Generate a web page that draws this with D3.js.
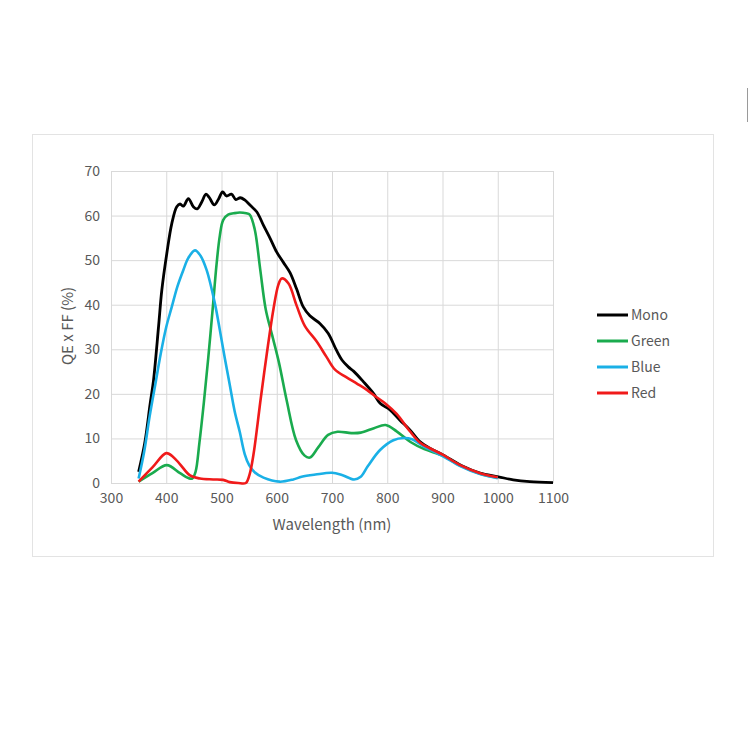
<!DOCTYPE html>
<html>
<head>
<meta charset="utf-8">
<script src="https://cdn.jsdelivr.net/npm/d3@7"></script>
<style>
  body { margin: 0; background: #fff; }
  text { font-family: "Noto Sans CJK SC", "Noto Sans", sans-serif; fill: #595959; }
</style>
</head>
<body>
<svg width="750" height="750"></svg>
<script>
// wavelength (nm) and QE x FF (%), one pair of arrays per curve
var monoNm = [350,361,371,377,386,392,401,410,419,425,431,440,449,456,464,472,478,487,495,502,509,518,526,534,542,552,564,576,588,600,612,624,636,648,660,678,693,708,718,730,739,757,775,787,805,823,841,859,877,901,938,968,1001,1028,1058,1100];
var monoQe = [2.5,8.9,17.9,23.1,35,43.3,51.5,58.2,62.0,62.6,62.1,63.8,62.0,61.5,63,64.8,64,62.4,63.8,65.3,64.4,64.8,63.6,64.0,63.5,62.3,60.8,57.8,54.9,51.8,49.5,47.2,43.5,39.5,37.5,35.8,33.6,29.8,27.6,26.0,25.1,22.7,20.1,17.9,16.4,14.1,11.9,9.3,7.8,6.3,3.7,2.2,1.4,0.7,0.3,0.1];

var greenNm = [350,375,401,425,440,447,453,460,468,476,484,491,497,503,512,522,533,545,551,560,570,580,592,604,618,635,650,660,675,693,710,735,752,776,797,817,842,867,901,932,968,1000];
var greenQe = [0.3,2.2,4.0,2.2,1.1,1.0,2.5,9,18,28,39,49,55.5,59,60.2,60.5,60.7,60.5,60.2,57,48,39,33,27,18.5,9.6,6.2,5.7,8,10.8,11.5,11.2,11.3,12.3,13.0,11.6,9.2,7.6,6.1,3.9,2.1,1.2];

var blueNm = [350,360,370,380,390,400,410,420,431,440,452,462,473,488,497,506,515,524,533,542,550,560,576,605,630,645,670,700,718,740,752,765,787,811,830,845,865,901,932,968,1000];
var blueQe = [1.0,7,15,22,29,35,39.5,44,47.8,50.5,52.2,51,47.8,40.3,34.3,28,22,16,11.5,6.5,4,2.4,1.2,0.3,0.8,1.4,1.9,2.3,1.8,0.8,1.4,3.8,7.4,9.6,10.1,9.8,8.3,6.0,3.8,2.0,1.1];

var redNm = [350,375,400,413,425,443,461,485,503,515,530,544,551,558,565,570,582,594,603,609,621,636,651,672,690,705,725,745,763,780,797,817,841,859,877,901,932,968,1000];
var redQe = [0.3,3.5,6.7,5.8,4.2,1.7,1.0,0.8,0.7,0.2,0,0,2.0,6.5,13,18,29,39,44.5,45.9,44.8,39.8,35.2,31.8,28.3,25.5,23.8,22.3,20.9,19.3,17.8,15.5,11.6,9.1,7.8,6.3,4.0,2.2,1.3];

var seriesNames = ["Mono", "Green", "Blue", "Red"];
var seriesColors = ["#000000", "#1aab4e", "#1ab0e6", "#f01a1a"];
var xTicks = [300,400,500,600,700,800,900,1000,1100];
var yTicks = [0,10,20,30,40,50,60,70];

var svg = d3.select("svg");

// outer frame of the picture
svg.append("rect")
  .attr("x", 32.5).attr("y", 134.5)
  .attr("width", 681).attr("height", 422)
  .attr("fill", "none").attr("stroke", "#e3e3e3");
svg.append("line")
  .attr("x1", 747.5).attr("x2", 747.5).attr("y1", 88).attr("y2", 122)
  .attr("stroke", "#9a9a9a");

var margin = {left: 111, top: 171},
    width = 442, height = 312;
var g = svg.append("g").attr("transform", "translate(" + margin.left + "," + margin.top + ")");

var x = d3.scaleLinear().domain([300, 1100]).range([0, width]);
var y = d3.scaleLinear().domain([0, 70]).range([height, 0]);

// grid + tick labels
var xAxis = g.append("g")
  .attr("transform", "translate(0," + height + ")")
  .call(d3.axisBottom(x).tickValues(xTicks).tickSize(-height).tickPadding(10).tickFormat(d3.format("d")));
var yAxis = g.append("g")
  .call(d3.axisLeft(y).tickValues(yTicks).tickSize(-width).tickPadding(11));
[xAxis, yAxis].forEach(function(a) {
  a.select(".domain").remove();
  a.selectAll("line").attr("stroke", "#d9d9d9");
  a.selectAll("text").attr("font-size", 14).style("fill", "#595959")
    .attr("font-family", "'Noto Sans CJK SC', sans-serif");
});

// axis titles
g.append("text")
  .attr("x", x(700)).attr("y", height + 47)
  .attr("text-anchor", "middle").attr("font-size", 15)
  .text("Wavelength (nm)");
g.append("text")
  .attr("transform", "translate(-38," + (height / 2 - 1) + ") rotate(-90)")
  .attr("text-anchor", "middle").attr("font-size", 15)
  .text("QE x FF (%)");

// curves
var line = d3.line()
  .x(function(d) { return x(d[0]); })
  .y(function(d) { return y(d[1]); })
  .curve(d3.curveCatmullRom.alpha(0.5));

var allSeries = [
  d3.zip(monoNm, monoQe),
  d3.zip(greenNm, greenQe),
  d3.zip(blueNm, blueQe),
  d3.zip(redNm, redQe)
];
// draw mono first, red last (red sits on top)
allSeries.forEach(function(s, i) {
  g.append("path")
    .datum(s)
    .attr("fill", "none")
    .attr("stroke", seriesColors[i])
    .attr("stroke-width", i == 0 ? 2.8 : 2.6)
    .attr("stroke-linejoin", "round")
    .attr("d", line);
});

// legend
var legend = svg.append("g")
  .selectAll("g")
  .data(seriesNames)
  .enter().append("g")
  .attr("transform", function(d, i) { return "translate(597," + (315 + i * 26) + ")"; });
legend.append("line")
  .attr("x1", 0).attr("x2", 31)
  .attr("stroke", function(d, i) { return seriesColors[i]; })
  .attr("stroke-width", 3);
legend.append("text")
  .attr("x", 34).attr("dy", "0.35em")
  .attr("font-size", 14)
  .text(function(d) { return d; });
</script>
</body>
</html>
